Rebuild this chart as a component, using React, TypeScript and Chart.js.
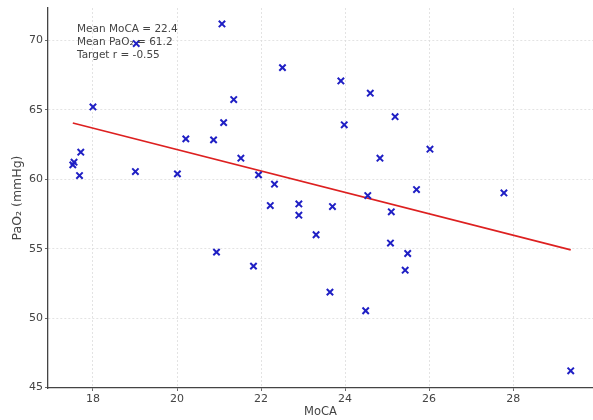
import React, { useEffect, useRef } from "react";
import { Chart, registerables } from "chart.js";

Chart.register(...registerables);

const mocaX = [
  17.52, 17.55, 17.71, 17.68, 18.0, 19.01, 19.03, 20.01, 20.21, 20.87,
  20.94, 21.07, 21.11, 21.35, 21.52, 21.82, 21.94, 22.51, 22.22, 22.32,
  22.9, 22.9, 23.31, 23.64, 23.7, 23.9, 23.98, 24.49, 24.54, 24.6,
  24.83, 25.1, 25.08, 25.19, 25.43, 25.49, 25.7, 26.02, 27.78, 29.37,
];
const pao2Y = [
  61.03, 61.22, 61.94, 60.26, 65.2, 60.55, 69.76, 60.38, 62.9, 62.83,
  54.75, 71.17, 64.07, 65.73, 61.51, 53.74, 60.31, 68.03, 58.1, 59.64,
  58.22, 57.41, 56.0, 51.87, 58.03, 67.07, 63.91, 50.53, 58.82, 66.19,
  61.51, 57.65, 55.4, 64.5, 53.45, 54.65, 59.25, 62.16, 59.01, 46.21,
];
const fitX = [17.52, 29.37];
const fitY = [64.05, 54.91];
const xTicks = [18, 20, 22, 24, 26, 28];
const yTicks = [45, 50, 55, 60, 65, 70];
const annotationLines = ["Mean MoCA = 22.4", "Mean PaO\u2082 = 61.2", "Target r = -0.55"];

const FONT = "'DejaVu Sans', sans-serif";

export default function App() {
  const ref = useRef<HTMLCanvasElement | null>(null);

  useEffect(() => {
    if (!ref.current) return;
    const textPlugin = {
      id: "annot",
      afterDraw(chart: any) {
        const ctx = chart.ctx;
        ctx.save();
        ctx.font = `10.5px ${FONT}`;
        ctx.fillStyle = "#444";
        ctx.textBaseline = "middle";
        ctx.textAlign = "left";
        annotationLines.forEach((t, i) => ctx.fillText(t, 77, 29 + i * 13));
        ctx.restore();
      },
    };
    const chart = new Chart(ref.current, {
      type: "scatter",
      data: {
        datasets: [
          {
            type: "scatter",
            data: mocaX.map((x, i) => ({ x, y: pao2Y[i] })),
            pointStyle: "crossRot",
            pointRadius: 4.5,
            pointBorderWidth: 2,
            borderColor: "#1f1fc4",
            backgroundColor: "#1f1fc4",
            order: 1,
          },
          {
            type: "line",
            data: fitX.map((x, i) => ({ x, y: fitY[i] })),
            borderColor: "#dd2020",
            borderWidth: 1.6,
            pointRadius: 0,
            fill: false,
            order: 2,
          } as any,
        ],
      },
      options: {
        responsive: false,
        devicePixelRatio: 1,
        animation: false,
        layout: { autoPadding: false, padding: { top: 8, left: 0, right: 0, bottom: 0 } },
        plugins: { legend: { display: false }, tooltip: { enabled: false } },
        scales: {
          x: {
            type: "linear",
            min: 16.93,
            max: 29.9,
            afterBuildTicks: (s: any) => {
              s.ticks = xTicks.map((v) => ({ value: v }));
            },
            afterFit: (s: any) => {
              s.height = 32;
              s.paddingLeft = 0;
              s.paddingRight = 0;
            },
            grid: { color: "#dcdcdc", lineWidth: 0.8, tickLength: 3, tickColor: "#444" },
            border: { color: "#444", width: 1.3, dash: [2, 2] },
            ticks: { color: "#444", font: { family: FONT, size: 11 }, padding: 2, maxRotation: 0 },
            title: {
              display: true,
              text: "MoCA",
              color: "#444",
              font: { family: FONT, size: 11.5 },
              padding: { top: 0, bottom: 1 },
            },
          },
          y: {
            type: "linear",
            min: 44.97,
            max: 72.32,
            afterBuildTicks: (s: any) => {
              s.ticks = yTicks.map((v) => ({ value: v }));
            },
            afterFit: (s: any) => {
              s.width = 48;
              s.paddingTop = 0;
              s.paddingBottom = 0;
            },
            grid: { color: "#dcdcdc", lineWidth: 0.8, tickLength: 3, tickColor: "#444" },
            border: { color: "#444", width: 1.3, dash: [2, 2] },
            ticks: { color: "#444", font: { family: FONT, size: 11 }, padding: 2 },
            title: {
              display: true,
              text: "PaO\u2082 (mmHg)",
              color: "#444",
              font: { family: FONT, size: 12.5 },
              padding: { top: 10, bottom: 0 },
            },
          },
        },
      },
      plugins: [textPlugin],
    });
    return () => chart.destroy();
  }, []);

  return (
    <div style={{ position: "fixed", left: 0, top: 0, width: 593, height: 420, background: "#fff" }}>
      <canvas ref={ref} width={593} height={420} style={{ width: 593, height: 420 }} />
    </div>
  );
}
